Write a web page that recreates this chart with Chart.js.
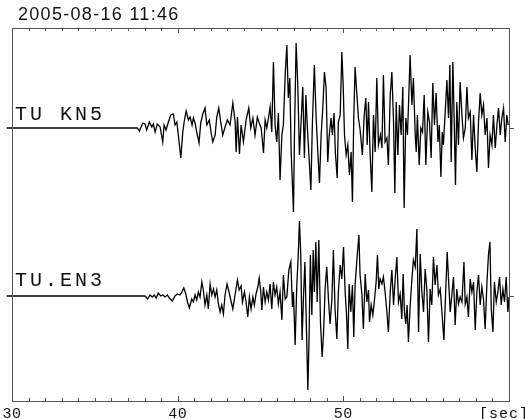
<!DOCTYPE html>
<html>
<head>
<meta charset="utf-8">
<title>2005-08-16 11:46</title>
<script src="https://cdn.jsdelivr.net/npm/chart.js"></script>
<style>
  html, body { margin: 0; padding: 0; background: #fff; }
</style>
</head>
<body>
<canvas id="seis" width="528" height="419"></canvas>
<script>
const title = '2005-08-16 11:46';
const stations = ['TU KN5', 'TU.EN3'];
const baselines = [273, 105];        // trace zero lines on the y scale
const xTickLabels = [30, 40, 50];
const xUnit = '[sec]';

// TU KN5
const t1 = [29.68, 37.57, 37.69, 37.89, 38.03, 38.13, 38.29, 38.44, 38.53, 38.64,
  38.77, 38.94, 39.10, 39.18, 39.30, 39.44, 39.58, 39.74, 39.84, 39.95,
  40.04, 40.19, 40.31, 40.39, 40.51, 40.65, 40.75, 40.87, 40.95, 41.05,
  41.15, 41.29, 41.39, 41.52, 41.65, 41.76, 41.91, 42.02, 42.12, 42.26,
  42.36, 42.48, 42.60, 42.72, 42.86, 43.00, 43.16, 43.33, 43.47, 43.53,
  43.61, 43.73, 43.83, 43.97, 44.13, 44.29, 44.41, 44.54, 44.67, 44.81,
  44.92, 45.04, 45.18, 45.28, 45.38, 45.48, 45.58, 45.68, 45.78, 45.88,
  45.98, 46.08, 46.18, 46.29, 46.38, 46.49, 46.59, 46.68, 46.77, 46.85,
  46.93, 46.99, 47.05, 47.15, 47.25, 47.35, 47.45, 47.55, 47.65, 47.74,
  47.83, 47.93, 48.04, 48.13, 48.25, 48.36, 48.46, 48.56, 48.66, 48.76,
  48.86, 48.96, 49.06, 49.14, 49.26, 49.34, 49.44, 49.52, 49.63, 49.70,
  49.81, 49.91, 49.99, 50.07, 50.17, 50.27, 50.37, 50.47, 50.55, 50.63,
  50.71, 50.82, 50.91, 51.00, 51.08, 51.15, 51.26, 51.36, 51.44, 51.52,
  51.62, 51.72, 51.82, 51.92, 52.02, 52.12, 52.24, 52.33, 52.42, 52.52,
  52.63, 52.72, 52.83, 52.93, 53.03, 53.11, 53.19, 53.29, 53.39, 53.49,
  53.59, 53.67, 53.77, 53.87, 53.96, 54.03, 54.14, 54.23, 54.34, 54.40,
  54.47, 54.58, 54.68, 54.78, 54.88, 54.98, 55.10, 55.20, 55.30, 55.40,
  55.50, 55.60, 55.71, 55.79, 55.89, 55.97, 56.04, 56.15, 56.25, 56.35,
  56.43, 56.51, 56.61, 56.69, 56.77, 56.85, 56.95, 57.05, 57.16, 57.25,
  57.36, 57.46, 57.55, 57.66, 57.76, 57.86, 57.96, 58.06, 58.16, 58.26,
  58.36, 58.46, 58.56, 58.67, 58.76, 58.86, 58.97, 59.06, 59.17, 59.27,
  59.37, 59.47, 59.57, 59.67, 59.77, 59.87, 59.95];
const a1 = [0, 0, -3, 5, 4, -2, 6, 1, 4, -4,
  4, 1, -14, 3, -2, 6, 13, 14, 3, 6,
  -7, -30, -4, 6, 17, 8, 11, 3, 10, 5,
  -4, -15, 5, 14, 20, 3, 8, -5, -14, -7,
  11, 20, 6, -7, 1, 8, 3, 25, 6, -24,
  11, -26, 3, -14, 8, 20, 0, 10, -7, 11,
  5, 0, -25, 8, 0, 10, 21, -4, 66, 3,
  -14, 15, -52, -7, 3, 53, 83, 30, 50, -24,
  -57, -84, -7, 85, 43, -27, 6, 41, -30, 33,
  0, -29, -62, 3, 63, 10, -24, -55, -7, 20,
  56, 40, -34, -9, 10, -7, 15, -25, -50, 6,
  13, 76, 43, -7, -27, -17, -47, -24, -74, 10,
  61, 33, 10, 0, -14, -27, 13, 30, -17, 26,
  -27, -64, 13, -24, 50, -17, -7, -20, 53, -14,
  -10, -37, 33, 56, 6, -65, 26, -27, 23, -7,
  41, -80, 10, -7, 36, 73, 23, 50, -7, -24,
  13, -37, 0, -4, 33, -37, 16, 6, -30, 45,
  3, 35, -14, 3, -49, -4, -17, 16, 48, 10,
  63, -34, 66, 10, -57, 26, -17, 46, 13, -10,
  0, 41, 10, 16, -32, 13, -20, -44, 6, 35,
  13, 23, -7, 10, -40, -7, -17, 13, -20, 3,
  20, -7, 10, 20, -14, 13, 3];

// TU.EN3
const t2 = [29.68, 38.03, 38.19, 38.33, 38.47, 38.59, 38.70, 38.83, 38.98, 39.10,
  39.24, 39.38, 39.50, 39.68, 39.84, 39.98, 40.14, 40.25, 40.37, 40.49,
  40.61, 40.71, 40.85, 40.95, 41.05, 41.15, 41.25, 41.35, 41.46, 41.55,
  41.65, 41.76, 41.85, 41.96, 42.06, 42.16, 42.26, 42.36, 42.46, 42.56,
  42.66, 42.76, 42.86, 42.98, 43.10, 43.22, 43.33, 43.47, 43.61, 43.71,
  43.83, 43.91, 44.03, 44.13, 44.23, 44.33, 44.43, 44.54, 44.63, 44.73,
  44.84, 44.92, 45.02, 45.08, 45.18, 45.28, 45.38, 45.48, 45.58, 45.68,
  45.78, 45.88, 45.98, 46.08, 46.18, 46.29, 46.38, 46.49, 46.59, 46.71,
  46.83, 46.93, 46.99, 47.09, 47.19, 47.27, 47.35, 47.43, 47.51, 47.59,
  47.68, 47.75, 47.86, 47.93, 48.01, 48.10, 48.18, 48.25, 48.34, 48.42,
  48.52, 48.62, 48.72, 48.80, 48.90, 49.00, 49.10, 49.20, 49.31, 49.40,
  49.50, 49.61, 49.70, 49.81, 49.91, 50.01, 50.11, 50.19, 50.27, 50.35,
  50.45, 50.55, 50.63, 50.71, 50.83, 50.94, 51.01, 51.12, 51.21, 51.32,
  51.42, 51.52, 51.58, 51.68, 51.78, 51.88, 51.98, 52.06, 52.14, 52.22,
  52.33, 52.42, 52.52, 52.63, 52.72, 52.83, 52.93, 53.03, 53.13, 53.23,
  53.33, 53.43, 53.53, 53.61, 53.69, 53.77, 53.85, 53.93, 54.03, 54.14,
  54.23, 54.34, 54.44, 54.54, 54.64, 54.74, 54.84, 54.94, 55.04, 55.14,
  55.24, 55.34, 55.44, 55.54, 55.65, 55.74, 55.85, 55.95, 56.07, 56.17,
  56.27, 56.35, 56.45, 56.55, 56.65, 56.75, 56.85, 56.95, 57.05, 57.16,
  57.28, 57.36, 57.46, 57.55, 57.66, 57.76, 57.86, 57.96, 58.06, 58.16,
  58.26, 58.36, 58.46, 58.56, 58.67, 58.76, 58.85, 58.93, 59.03, 59.12,
  59.23, 59.33, 59.43, 59.53, 59.63, 59.73, 59.83, 59.93, 60.00];
const a2 = [0, 0, -3, 1, -1, 1, -2, 3, 0, 1,
  -1, 1, -2, -5, 0, 2, 1, 4, 8, 2,
  -7, -12, -3, -6, 1, -4, 4, -1, 14, 6,
  -9, 1, -13, 12, 1, 7, -1, 6, -8, -16,
  -9, -18, 1, 12, 4, -5, -13, 2, 16, 6,
  10, -6, 4, -6, -21, -1, -13, -1, -9, 2,
  9, 18, 4, -14, 9, -6, 4, -4, 12, -13,
  14, 1, 9, -8, 4, -24, 21, -3, -1, 26,
  34, -11, 4, -49, 11, 37, 75, 41, -44, -3,
  34, -16, -94, -43, 41, -19, 46, 4, 54, -6,
  56, -26, -61, -39, 7, 29, -3, -28, -3, 46,
  -13, -43, 4, 31, 17, 49, 4, -18, -53, 12,
  -16, 11, -41, 11, 39, 61, 21, 2, -33, 22,
  -6, 6, -26, -9, -19, -4, 14, 41, 7, 17,
  12, 19, 4, -16, -36, 4, 26, -9, 17, 39,
  -6, 2, -23, 22, -16, -28, -9, -46, -11, 17,
  36, 29, 67, -36, 42, 4, -16, 27, 7, -46,
  7, -9, 39, 11, 31, 1, 7, -16, -44, 1,
  44, 17, -16, 1, 19, -29, 7, -8, -1, -6,
  34, -8, -1, -21, 17, 4, 14, -34, 4, 21,
  -9, 9, -3, -33, 14, 41, 54, -13, -36, 14,
  -6, 4, 19, -9, 7, -6, 19, -16, -1];

function trace(times, amps, base) {
  const n = Math.min(times.length, amps.length);
  const pts = [];
  for (let i = 0; i < n; i++) pts.push({ x: times[i], y: base + amps[i] });
  return pts;
}

// frame with inward ticks, station names and the time axis labels
const framePlugin = {
  id: 'frame',
  afterDraw(chart) {
    const ctx = chart.ctx;
    const a = chart.chartArea;
    const xs = chart.scales.x;
    const ys = chart.scales.y;
    ctx.save();
    ctx.strokeStyle = '#555';
    ctx.lineWidth = 1;
    ctx.strokeRect(Math.round(a.left) + 0.5, Math.round(a.top) + 0.5,
      Math.round(a.right - a.left), Math.round(a.bottom - a.top));

    ctx.beginPath();
    for (let v = xs.min + 1; v < xs.max; v++) {
      const px = Math.round(xs.getPixelForValue(v)) + 0.5;
      const len = v % 10 === 0 ? 5 : 3;
      ctx.moveTo(px, a.top);
      ctx.lineTo(px, a.top + len);
      ctx.moveTo(px, a.bottom);
      ctx.lineTo(px, a.bottom - len);
    }
    // short marks to the right of the frame at each zero line
    baselines.forEach(b => {
      const py = Math.round(ys.getPixelForValue(b)) + 0.5;
      ctx.moveTo(a.right, py);
      ctx.lineTo(a.right + 5, py);
    });
    ctx.stroke();

    ctx.fillStyle = '#111';
    ctx.textBaseline = 'alphabetic';
    ctx.font = "18px 'Liberation Sans', Arial, sans-serif";
    ctx.letterSpacing = '1.3px';
    ctx.textAlign = 'left';
    ctx.fillText(title, 18, 20);

    ctx.font = "20px 'Liberation Mono', monospace";
    ctx.letterSpacing = '3px';
    const offs = [8, 10];
    stations.forEach((s, i) => {
      ctx.fillText(s, 15, ys.getPixelForValue(baselines[i]) - offs[i]);
    });

    ctx.font = "15px 'Liberation Mono', monospace";
    ctx.letterSpacing = '0.5px';
    ctx.textAlign = 'center';
    xTickLabels.forEach(v => {
      ctx.fillText(String(v), xs.getPixelForValue(v), 418);
    });
    ctx.textAlign = 'left';
    ctx.letterSpacing = '1px';
    ctx.fillText(xUnit, 479, 418);
    ctx.restore();
  }
};

new Chart(document.getElementById('seis'), {
  type: 'line',
  data: {
    datasets: [
      { label: stations[0], data: trace(t1, a1, baselines[0]), borderColor: '#000', backgroundColor: '#000' },
      { label: stations[1], data: trace(t2, a2, baselines[1]), borderColor: '#000', backgroundColor: '#000' }
    ]
  },
  options: {
    responsive: false,
    animation: false,
    layout: { padding: { left: 12, right: 19, top: 28, bottom: 18 } },
    datasets: {
      line: { borderWidth: 1.3, pointRadius: 0, tension: 0, clip: false, fill: false }
    },
    scales: {
      x: { type: 'linear', min: 30, max: 60, display: false },
      y: { type: 'linear', min: 0, max: 373, display: false }
    },
    plugins: { legend: { display: false }, tooltip: { enabled: false } }
  },
  plugins: [framePlugin]
});
</script>
</body>
</html>
